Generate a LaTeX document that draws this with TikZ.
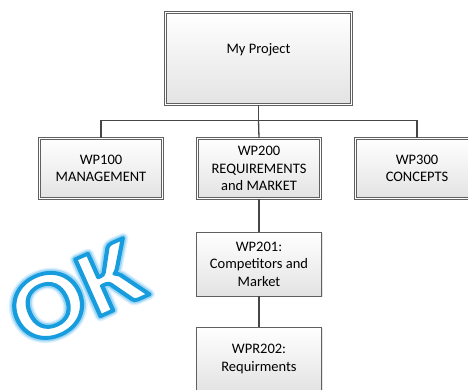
\documentclass[tikz,border=0pt]{standalone}
\usepackage{fontspec}
\setmainfont{Carlito}
\usetikzlibrary{shadows}
\definecolor{okblue}{RGB}{22,155,222}
\definecolor{linegray}{RGB}{70,70,70}
% outlined text: #1 = stroke rgb, #2 = line width, #3 = render mode
\newcommand{\okstroke}[4]{\special{pdf:literal direct q #1 RG #2 w 1 j #3 Tr}#4\special{pdf:literal direct 0 Tr Q}}

\begin{document}
\begin{tikzpicture}[x=1pt, y=-1pt,
    font=\fontsize{14.5}{17.5}\selectfont,
    wpbox/.style={draw=gray!75!black, line width=0.6pt, top color=white, bottom color=gray!22,
      align=center, inner sep=2pt, minimum width=123pt, minimum height=60pt,
      drop shadow={opacity=0.2, shadow xshift=1.2pt, shadow yshift=-1.2pt}},
    dblbox/.style={wpbox, double=white, double distance=1.8pt},
    conn/.style={linegray, line width=1.3pt},
    okstyle/.style={font=\fontsize{96}{96}\bfseries\selectfont, rotate=24, xscale=1.12, inner sep=0pt}]
        % Frame
        \useasboundingbox (0,0) rectangle (468,389);

        % Boxes
        \node[dblbox, minimum width=186pt, minimum height=92pt, text depth=19pt] (proj) at (258.5,58.5) {My Project};
        \node[dblbox] (wp100) at (101,168.5) {WP100\\MANAGEMENT};
        \node[dblbox] (wp200) at (259,168.5) {WP200\\REQUIREMENTS\\and MARKET};
        \node[dblbox] (wp300) at (417,168.5) {WP300\\CONCEPTS};
        \node[wpbox, minimum width=125pt, minimum height=64pt] (wp201) at (259,264) {WP201:\\Competitors and\\Market};
        \node[wpbox, minimum width=125pt, minimum height=64pt] (wpr202) at (259,359) {WPR202:\\Requirments};

        % Connectors
        \draw[conn] (proj.south) -- ++(0,15.5) coordinate (bus);
        \draw[conn] (wp100.north) |- (bus) -| (wp300.north);
        \draw[conn] (bus) -- (wp200.north);
        \draw[conn] (wp200.south) -- (wp201.north);
        \draw[conn] (wp201.south) -- (wpr202.north);

        % OK stamp
        \coordinate (okc) at (76,293);
        \node[okstyle] (okhalo) at (okc) {\okstroke{0.86 0.94 0.99}{10}{1}{O\kern2ptK}};
        \node[okstyle] (okglow) at (okc) {\okstroke{0.62 0.84 0.96}{7}{1}{O\kern2ptK}};
        \node[okstyle, text=white] (ok) at (okc) {\okstroke{0.09 0.61 0.87}{3.8}{2}{O\kern2ptK}};
\end{tikzpicture}
\end{document}
